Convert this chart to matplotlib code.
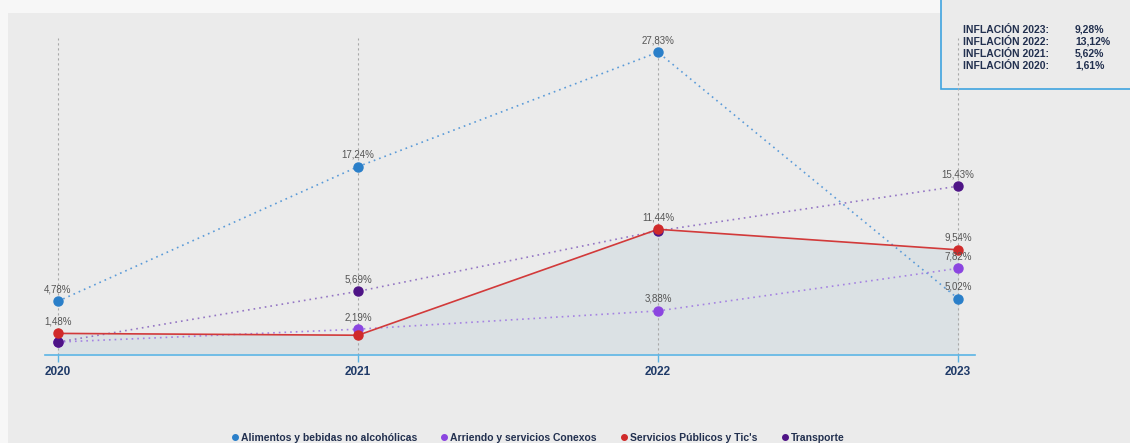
import matplotlib.pyplot as plt
from matplotlib.patches import Rectangle
from matplotlib.lines import Line2D

plt.rcParams['font.family'] = ['Liberation Sans', 'DejaVu Sans']

years = [2020, 2021, 2022, 2023]
alimentos = [4.78, 17.24, 27.83, 5.02]
arriendo = [1.0, 2.19, 3.88, 7.82]
servicios = [1.8, 1.63, 11.44, 9.54]
transporte = [1.0, 5.69, 11.3, 15.43]  # 2022 point hidden behind the red one

alimentos_lbl = ["4,78%", "17,24%", "27,83%", "5,02%"]
arriendo_lbl = ["", "2,19%", "3,88%", "7,82%"]
servicios_lbl = ["1,48%", "", "11,44%", "9,54%"]
transporte_lbl = ["", "5,69%", "", "15,43%"]

infl_names = ["INFLACIÓN 2023:", "INFLACIÓN 2022:", "INFLACIÓN 2021:", "INFLACIÓN 2020:"]
infl_values = ["9,28%", "13,12%", "5,62%", "1,61%"]

W, H = 1130, 443
fig = plt.figure(figsize=(W / 100, H / 100), dpi=100)
fig.patch.set_facecolor("#f7f7f7")

# grey panel
fig.patches.append(Rectangle((8 / W, 0), 1, 1 - 13 / H, transform=fig.transFigure,
                             facecolor="#ebebeb", edgecolor="none", zorder=-2))
# inflation box
fig.patches.append(Rectangle((941 / W, 1 - 89 / H), 200 / W, 1, transform=fig.transFigure,
                             facecolor="#ebebeb", edgecolor="#3fa3e0", lw=1.2, zorder=-1))

ax = fig.add_axes([45 / W, 1 - 355 / H, 930 / W, 317 / H])
ax.set_facecolor("none")
ax.set_xlim(2020 - 13 / 300, 2023 + 17 / 300)
ax.set_ylim(-0.2, 29.15)

for y in years:
    ax.axvline(y, color="#a8a8a8", lw=0.8, ls=(0, (2, 2.5)), zorder=1.5)

ax.fill_between(years, servicios, 0, color="#dbe1e4", zorder=1)

series = [
    (alimentos, alimentos_lbl, "#2a7fc9", "#5b9bd8", (0, (1, 2.4)), "Alimentos y bebidas no alcohólicas"),
    (arriendo, arriendo_lbl, "#8b45e0", "#a583e2", (0, (1, 2.4)), "Arriendo y servicios Conexos"),
    (transporte, transporte_lbl, "#4e1486", "#9476c4", (0, (1, 2.4)), "Transporte"),
    (servicios, servicios_lbl, "#d02a2a", "#d23a3a", "-", "Servicios Públicos y Tic's"),
]
for vals, lbls, mc, lc, ls, name in series:
    ax.plot(years, vals, color=lc, lw=1.2, ls=ls, zorder=2)
    ax.plot(years, vals, ls="none", marker="o", ms=6.5, color=mc, zorder=3)
    for x, v, t in zip(years, vals, lbls):
        if t:
            ax.annotate(t, (x, v), xytext=(0, 5), textcoords="offset points",
                        ha="center", va="bottom", fontsize=7, color="#555555", zorder=4)

for s in ["top", "right", "left"]:
    ax.spines[s].set_visible(False)
ax.spines["bottom"].set_color("#5ab4e5")
ax.spines["bottom"].set_linewidth(1.2)
ax.set_yticks([])
ax.set_xticks(years)
ax.set_xticklabels([str(y) for y in years], fontsize=8.5, fontweight="bold", color="#1f3a68")
ax.tick_params(axis="x", color="#5ab4e5", length=5, width=1, pad=3)

for i, (n, v) in enumerate(zip(infl_names, infl_values)):
    yy = 1 - (30 + 12 * i) / H
    fig.text(963 / W, yy, n, fontsize=7.5, fontweight="bold", color="#22304f", va="center")
    fig.text(1075 / W, yy, v, fontsize=7.5, fontweight="bold", color="#22304f", va="center")

handles = [
    Line2D([], [], ls="none", marker="o", ms=4, color="#2a7fc9"),
    Line2D([], [], ls="none", marker="o", ms=4, color="#8b45e0"),
    Line2D([], [], ls="none", marker="o", ms=4, color="#d02a2a"),
    Line2D([], [], ls="none", marker="o", ms=4, color="#4e1486"),
]
names = ["Alimentos y bebidas no alcohólicas", "Arriendo y servicios Conexos",
         "Servicios Públicos y Tic's", "Transporte"]
leg = fig.legend(handles, names, loc="center", bbox_to_anchor=(538 / W, 1 - 438 / H), ncol=4,
                 frameon=False, handlelength=0.6, handletextpad=0.3,
                 columnspacing=2.3, borderpad=0,
                 prop={"size": 7.5, "weight": "bold"})
for t in leg.get_texts():
    t.set_color("#22304f")

fig.savefig("out.png", dpi=100, facecolor=fig.get_facecolor())
